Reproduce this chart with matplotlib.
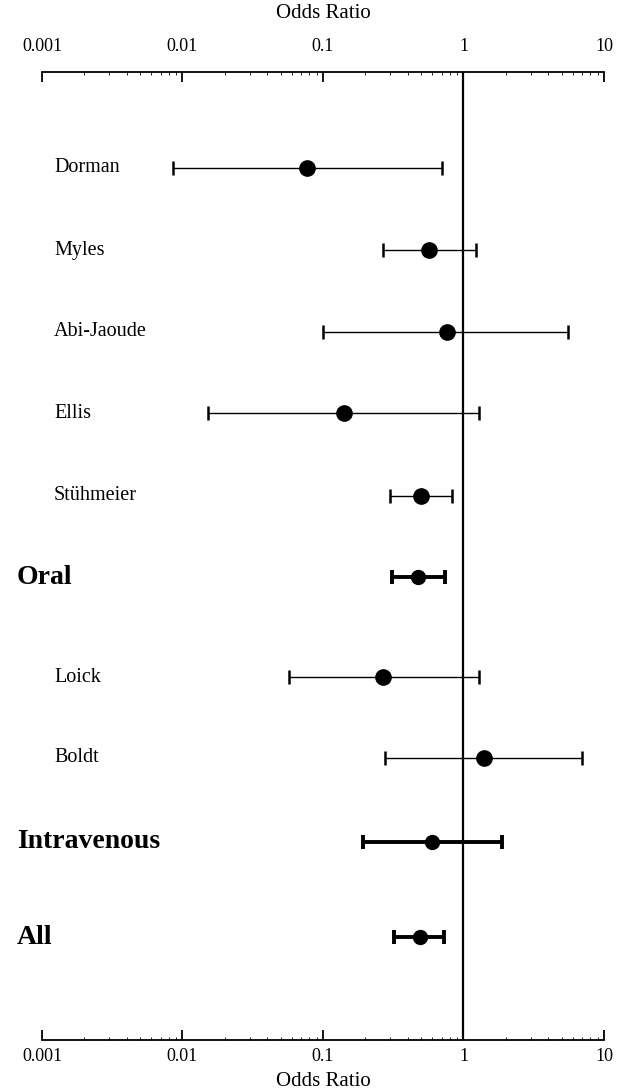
import matplotlib
matplotlib.use("Agg")
import matplotlib.pyplot as plt
import matplotlib.transforms as mtransforms
from matplotlib.ticker import LogLocator, FixedLocator, FixedFormatter, NullFormatter

# Datos (odds ratio e IC 95%)
estudios = ["Dorman", "Myles", "Abi-Jaoude", "Ellis", "Stühmeier", "Oral",
            "Loick", "Boldt", "Intravenous", "All"]
odds_ratio = [0.077, 0.57, 0.76, 0.141, 0.50, 0.475, 0.268, 1.40, 0.60, 0.488]
ic_inferior = [0.0086, 0.269, 0.100, 0.0151, 0.298, 0.310, 0.057, 0.275, 0.192, 0.321]
ic_superior = [0.70, 1.22, 5.5, 1.29, 0.835, 0.736, 1.285, 7.0, 1.88, 0.729]
es_resumen = [False, False, False, False, False, True, False, False, True, True]

ticks = [0.001, 0.01, 0.1, 1, 10]
etiquetas_ticks = ["0.001", "0.01", "0.1", "1", "10"]

# Posicion vertical de cada fila (pixeles desde arriba)
filas_y = [168, 250, 332, 413, 496, 577, 677, 758, 842, 937]

plt.rcParams["font.family"] = ["Liberation Serif", "DejaVu Serif"]

fig = plt.figure(figsize=(6.23, 10.92), dpi=100)
ax = fig.add_axes([42 / 623, 52 / 1092, (604 - 42) / 623, (1040 - 72) / 1092])

ax.set_xscale("log")
ax.set_xlim(0.001, 10)
ax.set_ylim(1040, 72)

for i, nombre in enumerate(estudios):
    y = filas_y[i]
    err = [[odds_ratio[i] - ic_inferior[i]], [ic_superior[i] - odds_ratio[i]]]
    if es_resumen[i]:
        ax.errorbar(odds_ratio[i], y, xerr=err, fmt="o", color="black",
                    markersize=10, elinewidth=2.8, capsize=5, capthick=2.8, zorder=3)
    else:
        ax.errorbar(odds_ratio[i], y, xerr=err, fmt="o", color="black",
                    markersize=11, elinewidth=1.0, capsize=5, capthick=1.8, zorder=3)

ax.axvline(1, color="black", linewidth=1.6, zorder=2)

# Etiquetas de los estudios
trans = mtransforms.blended_transform_factory(fig.transFigure, ax.transData)
for i, nombre in enumerate(estudios):
    if es_resumen[i]:
        ax.text(17 / 623, filas_y[i], nombre, transform=trans, fontsize=20,
                fontweight="bold", va="center", ha="left")
    else:
        ax.text(54 / 623, filas_y[i], nombre, transform=trans, fontsize=14.5,
                va="center", ha="left")

# Ejes
for lado in ["left", "right"]:
    ax.spines[lado].set_visible(False)
ax.spines["top"].set_linewidth(1.3)
ax.spines["bottom"].set_linewidth(1.3)
ax.set_yticks([])

ax.xaxis.set_major_locator(FixedLocator(ticks))
ax.xaxis.set_major_formatter(FixedFormatter(etiquetas_ticks))
ax.xaxis.set_minor_locator(LogLocator(base=10, subs=range(2, 10)))
ax.xaxis.set_minor_formatter(NullFormatter())
ax.tick_params(axis="x", which="major", direction="in", length=7, width=1.3,
               top=True, bottom=True, labeltop=False, labelbottom=True,
               labelsize=13, pad=6)
ax.tick_params(axis="x", which="minor", direction="in", length=2.5, width=0.6,
               top=True, bottom=True)

# Etiquetas superiores con otro espaciado
ax_sup = ax.secondary_xaxis("top")
ax_sup.xaxis.set_major_locator(FixedLocator(ticks))
ax_sup.xaxis.set_major_formatter(FixedFormatter(etiquetas_ticks))
ax_sup.xaxis.set_minor_locator(FixedLocator([]))
ax_sup.tick_params(axis="x", which="major", length=0, labelsize=13, pad=12)
ax_sup.spines["top"].set_visible(False)

fig.text(323 / 623, 1 - 14 / 1092, "Odds Ratio", fontsize=15, ha="center", va="center")
fig.text(323 / 623, 1 - 1081 / 1092, "Odds Ratio", fontsize=15, ha="center", va="center")

fig.savefig("out.png", dpi=100)
